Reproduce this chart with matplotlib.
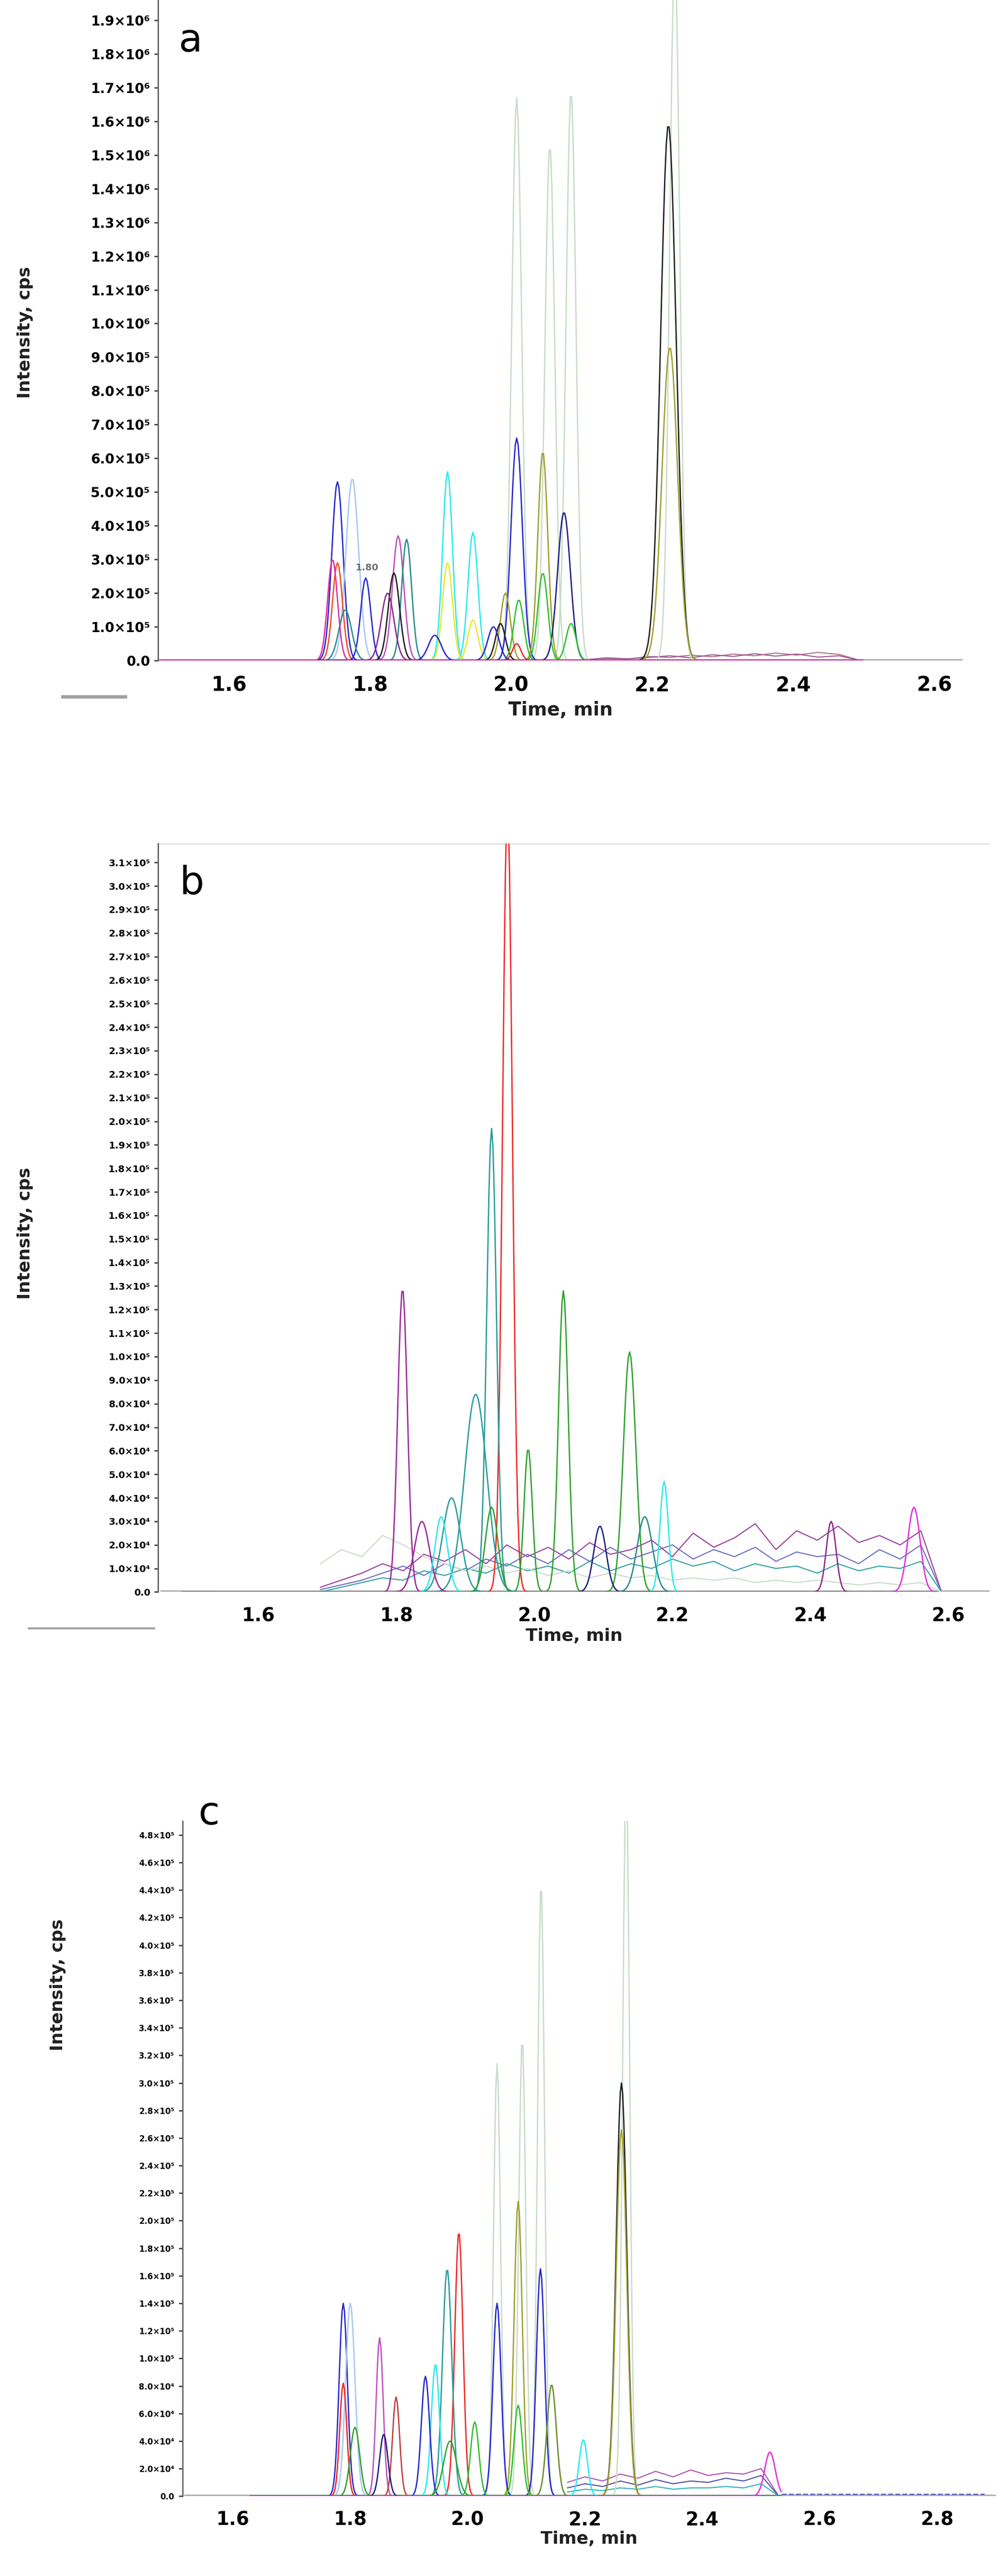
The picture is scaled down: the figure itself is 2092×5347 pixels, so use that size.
import numpy as np
import matplotlib
matplotlib.use("Agg")
import matplotlib.pyplot as plt

# ── Panel a peaks: apex time (min), height (cps), sigma (min), colour ──
A_T = [2.008, 2.055, 2.085, 2.232, 2.223, 2.225, 2.008, 2.045, 2.075, 1.754, 1.775,
       1.754, 1.794, 1.840, 1.852, 1.834, 1.910, 1.946, 1.910, 1.946, 1.892, 1.992,
       1.985, 2.011, 2.045, 2.085, 2.008, 1.975, 1.765, 1.825, 1.747]
A_H = [1.67e6, 1.53e6, 1.69e6, 2.10e6, 1.59e6, 0.93e6, 6.6e5, 6.2e5, 4.4e5, 5.3e5, 5.4e5,
       2.9e5, 2.45e5, 3.7e5, 3.6e5, 2.6e5, 5.6e5, 3.8e5, 2.9e5, 1.2e5, 7.5e4, 2.0e5,
       1.1e5, 1.8e5, 2.6e5, 1.1e5, 5e4, 1.0e5, 1.5e5, 2.0e5, 3.0e5]
A_W = [0.007, 0.007, 0.007, 0.007, 0.011, 0.011, 0.008, 0.007, 0.009, 0.008, 0.009,
       0.007, 0.007, 0.008, 0.007, 0.008, 0.007, 0.007, 0.007, 0.007, 0.009, 0.007,
       0.007, 0.007, 0.007, 0.007, 0.006, 0.008, 0.009, 0.009, 0.007]
A_C = ["#c8dcc8", "#c8dcc8", "#c8dcc8", "#c8dcc8", "#202020", "#a0a030", "#2828d0", "#a0a030",
       "#202080", "#2828d0", "#a8c8f0", "#f05020", "#2828d0", "#c050c0", "#2a8c8c", "#202020",
       "#30e8f0", "#30e8f0", "#e8e830", "#e8e830", "#2828d0", "#a0a030", "#202020", "#30c030",
       "#30c030", "#30c030", "#f02828", "#2828d0", "#2a8c8c", "#8c2a8c", "#e030a0"]
A_RANGE = (1.50, 2.50)

# ── Panel b ──
B_T = [1.961, 1.938, 1.915, 1.880, 1.809, 1.837, 2.042, 2.138, 1.991, 1.938, 2.188,
       2.550, 2.430, 1.865, 2.095, 2.160]
B_H = [3.35e5, 1.97e5, 8.4e4, 4.0e4, 1.29e5, 3.0e4, 1.28e5, 1.02e5, 6.1e4, 3.6e4, 4.7e4,
       3.6e4, 3.0e4, 3.2e4, 2.8e4, 3.2e4]
B_W = [0.007, 0.007, 0.016, 0.013, 0.007, 0.011, 0.007, 0.009, 0.006, 0.009, 0.006,
       0.009, 0.007, 0.009, 0.009, 0.011]
B_C = ["#f02828", "#2a9c9c", "#2a9c9c", "#2a9c9c", "#9c2a9c", "#9c2a9c", "#30a030", "#30a030",
       "#30a030", "#30a030", "#30e8f0", "#e030e0", "#8c2a8c", "#30e8f0", "#202080", "#2a8c8c"]
B_RANGE = (1.49, 2.585)

# ── Panel c ──
C_T = [2.270, 2.125, 2.093, 2.050, 2.262, 2.262, 2.086, 1.985, 1.965, 2.124, 2.050,
       1.788, 1.800, 1.850, 1.945, 1.928, 1.788, 1.878, 2.143, 2.012, 2.086, 2.197,
       1.808, 1.857, 1.970, 2.515]
C_H = [5.2e5, 4.45e5, 3.32e5, 3.14e5, 3.0e5, 2.66e5, 2.14e5, 1.92e5, 1.65e5, 1.65e5, 1.40e5,
       1.40e5, 1.40e5, 1.15e5, 9.6e4, 8.7e4, 8.2e4, 7.2e4, 8.1e4, 5.4e4, 6.6e4, 4.1e4,
       5.0e4, 4.5e4, 4.0e4, 3.2e4]
C_W = [0.006, 0.006, 0.006, 0.006, 0.009, 0.009, 0.007, 0.007, 0.008, 0.007, 0.007,
       0.007, 0.008, 0.006, 0.007, 0.007, 0.006, 0.006, 0.008, 0.007, 0.007, 0.007,
       0.008, 0.007, 0.011, 0.009]
C_C = ["#c8dcc8", "#c8dcc8", "#c8dcc8", "#c8dcc8", "#202020", "#a0a030", "#a0a030", "#f02828",
       "#2a9c9c", "#2828d0", "#2828d0", "#2828d0", "#a8c8f0", "#c050c0", "#30e8f0", "#2828d0",
       "#f02828", "#c04040", "#6c8c30", "#30c030", "#30c030", "#30e8f0", "#30a030", "#202080",
       "#30a030", "#e030e0"]
C_RANGE = (1.63, 2.535)

# baseline noise traces, values in cps on a 0.03 min grid
A_NOISE_T0 = 2.105
A_NOISE = [
    [3e3, 6e3, 4e3, 1.2e4, 9e3, 1.6e4, 1.1e4, 1.9e4, 1.4e4, 2.2e4, 1.6e4, 2.4e4, 1.8e4, 0],
    [2e3, 8e3, 5e3, 9e3, 1.4e4, 8e3, 1.7e4, 1.2e4, 2.0e4, 1.3e4, 1.9e4, 1.0e4, 1.4e4, 0],
]
A_NOISE_C = ["#b07090", "#9c5c8c"]

B_NOISE_T0 = 1.69
B_NOISE = [
    [2e3, 5e3, 8e3, 1.2e4, 9e3, 1.6e4, 1.3e4, 1.8e4, 1.2e4, 2.0e4, 1.5e4, 1.9e4, 1.4e4, 2.1e4,
     1.6e4, 1.8e4, 2.2e4, 1.5e4, 2.5e4, 1.9e4, 2.3e4, 2.9e4, 1.8e4, 2.6e4, 2.2e4, 2.8e4,
     2.1e4, 2.4e4, 2.0e4, 2.6e4, 0],
    [1e3, 3e3, 5e3, 8e3, 1.1e4, 7e3, 1.2e4, 9e3, 1.4e4, 1.1e4, 1.6e4, 1.2e4, 1.8e4, 1.3e4,
     1.9e4, 1.4e4, 1.7e4, 2.0e4, 1.4e4, 1.8e4, 1.5e4, 1.9e4, 1.3e4, 1.7e4, 1.5e4, 1.6e4,
     1.2e4, 1.8e4, 1.4e4, 2.0e4, 0],
    [0, 2e3, 4e3, 6e3, 5e3, 9e3, 7e3, 1.0e4, 8e3, 1.2e4, 9e3, 1.1e4, 8e3, 1.3e4, 9e3, 1.2e4,
     1.0e4, 1.4e4, 1.1e4, 1.3e4, 9e3, 1.2e4, 1.0e4, 1.1e4, 8e3, 1.2e4, 9e3, 1.1e4, 1.0e4,
     1.3e4, 0],
    [1.2e4, 1.8e4, 1.5e4, 2.4e4, 2.0e4, 1.5e4, 1.2e4, 9e3, 1.1e4, 8e3, 1.0e4, 7e3, 9e3, 6e3,
     8e3, 6e3, 7e3, 5e3, 6e3, 5e3, 6e3, 4e3, 5e3, 4e3, 5e3, 4e3, 3e3, 4e3, 3e3, 4e3, 0],
]
B_NOISE_C = ["#9c3c9c", "#6c6cc0", "#30a0a0", "#c8dcc8"]

C_NOISE_T0 = 2.17
C_NOISE = [
    [1.0e4, 1.4e4, 1.1e4, 1.6e4, 1.3e4, 1.8e4, 1.4e4, 1.9e4, 1.5e4, 1.7e4, 1.6e4, 2.0e4, 0],
    [6e3, 9e3, 7e3, 1.1e4, 8e3, 1.2e4, 9e3, 1.1e4, 1.0e4, 1.3e4, 1.1e4, 1.5e4, 0],
    [3e3, 5e3, 4e3, 6e3, 5e3, 7e3, 5e3, 6e3, 6e3, 7e3, 6e3, 9e3, 0],
]
C_NOISE_C = ["#b050b0", "#5050a0", "#30b0c0"]

A_YTICKS = [i * 1e5 for i in range(20)]
B_YTICKS = [i * 1e4 for i in range(32)]
C_YTICKS = [i * 2e4 for i in range(25)]

SUP = str.maketrans("0123456789", "⁰¹²³⁴⁵⁶⁷⁸⁹")


def sci(v):
    if v == 0:
        return "0.0"
    e = int(np.floor(np.log10(v) + 1e-9))
    return f"{v / 10**e:.1f}×10{str(e).translate(SUP)}"


def draw_panel(ax, T, H, W, C, rng, noise, noise_t0, noise_c, xlim, ylim, yticks,
               xticks, yfs, xfs):
    t = np.arange(rng[0], rng[1], 0.002)
    ax.plot([xlim[0] + 0.005, xlim[1]], [0, 0], color="#b0b0b0", lw=5, zorder=1)
    for nv, nc in zip(noise, noise_c):
        nt = noise_t0 + 0.03 * np.arange(len(nv))
        ax.plot(nt, nv, color=nc, lw=1.6, zorder=2)
    for tc, h, w, c in zip(T, H, W, C):
        y = h * np.exp(-0.5 * ((t - tc) / w) ** 2)
        ax.plot(t, y, color=c, lw=2.0, zorder=3)
    ax.set_xlim(*xlim)
    ax.set_ylim(*ylim)
    ax.set_yticks(yticks)
    ax.set_yticklabels([sci(v) for v in yticks], fontsize=yfs, fontweight="bold")
    ax.set_xticks(xticks)
    ax.set_xticklabels([f"{v:.1f}" for v in xticks], fontsize=xfs, fontweight="bold")
    for s in ["top", "right", "bottom"]:
        ax.spines[s].set_visible(False)
    ax.spines["left"].set_color("#606060")
    ax.spines["left"].set_linewidth(2)
    ax.tick_params(axis="y", length=6, width=2, color="#404040", pad=6)
    ax.tick_params(axis="x", length=0, pad=22)


fig = plt.figure(figsize=(20.92, 53.47), dpi=100)

ax_a = fig.add_axes([0.157, 0.7436, 0.798, 0.2564])
draw_panel(ax_a, A_T, A_H, A_W, A_C, A_RANGE, A_NOISE, A_NOISE_T0, A_NOISE_C,
           (1.50, 2.64), (0, 1.96e6), A_YTICKS, [1.6, 1.8, 2.0, 2.2, 2.4, 2.6], 20, 30)
ax_a.text(1.796, 2.75e5, "1.80", fontsize=14, fontweight="bold", color="#707070",
          ha="center", va="center", zorder=5)
ax_a.set_xlabel("Time, min", fontsize=28, fontweight="bold", labelpad=8)

ax_b = fig.add_axes([0.157, 0.382, 0.825, 0.2905])
draw_panel(ax_b, B_T, B_H, B_W, B_C, B_RANGE, B_NOISE, B_NOISE_T0, B_NOISE_C,
           (1.455, 2.66), (0, 3.18e5), B_YTICKS, [1.6, 1.8, 2.0, 2.2, 2.4, 2.6], 14, 28)
ax_b.axhline(3.18e5, color="#d8d8d8", lw=2)
ax_b.set_xlabel("Time, min", fontsize=26, fontweight="bold", labelpad=4)

ax_c = fig.add_axes([0.181, 0.031, 0.807, 0.262])
draw_panel(ax_c, C_T, C_H, C_W, C_C, C_RANGE, C_NOISE, C_NOISE_T0, C_NOISE_C,
           (1.514, 2.90), (0, 4.9e5), C_YTICKS, [1.6, 1.8, 2.0, 2.2, 2.4, 2.6, 2.8], 12, 28)
ax_c.plot([2.535, 2.88], [1500, 1500], color="#6060c0", lw=2, ls="--", zorder=2)
ax_c.set_xlabel("Time, min", fontsize=26, fontweight="bold", labelpad=2)

for ax in (ax_a, ax_b, ax_c):
    ax.xaxis.label.set_color("#202020")

# panel letters and y labels
fig.text(395 / 2092, 1 - 85 / 5347, "a", fontsize=58, ha="center", va="center")
fig.text(398 / 2092, 1 - 1834 / 5347, "b", fontsize=58, ha="center", va="center")
fig.text(434 / 2092, 1 - 3765 / 5347, "c", fontsize=58, ha="center", va="center")
for x, y in [(52, 690), (52, 2560), (120, 4120)]:
    fig.text(x / 2092, 1 - y / 5347, "Intensity, cps", rotation=90, fontsize=26,
             fontweight="bold", ha="center", va="center", color="#202020")

# small grey dashes left of the x axes
fig.add_artist(plt.Line2D([130 / 2092, 260 / 2092], [1 - 1446 / 5347] * 2,
                          color="#a0a0a0", lw=5))
fig.add_artist(plt.Line2D([60 / 2092, 320 / 2092], [1 - 3380 / 5347] * 2,
                          color="#a0a0a0", lw=3))

fig.savefig("out.png", dpi=100, facecolor="white")
